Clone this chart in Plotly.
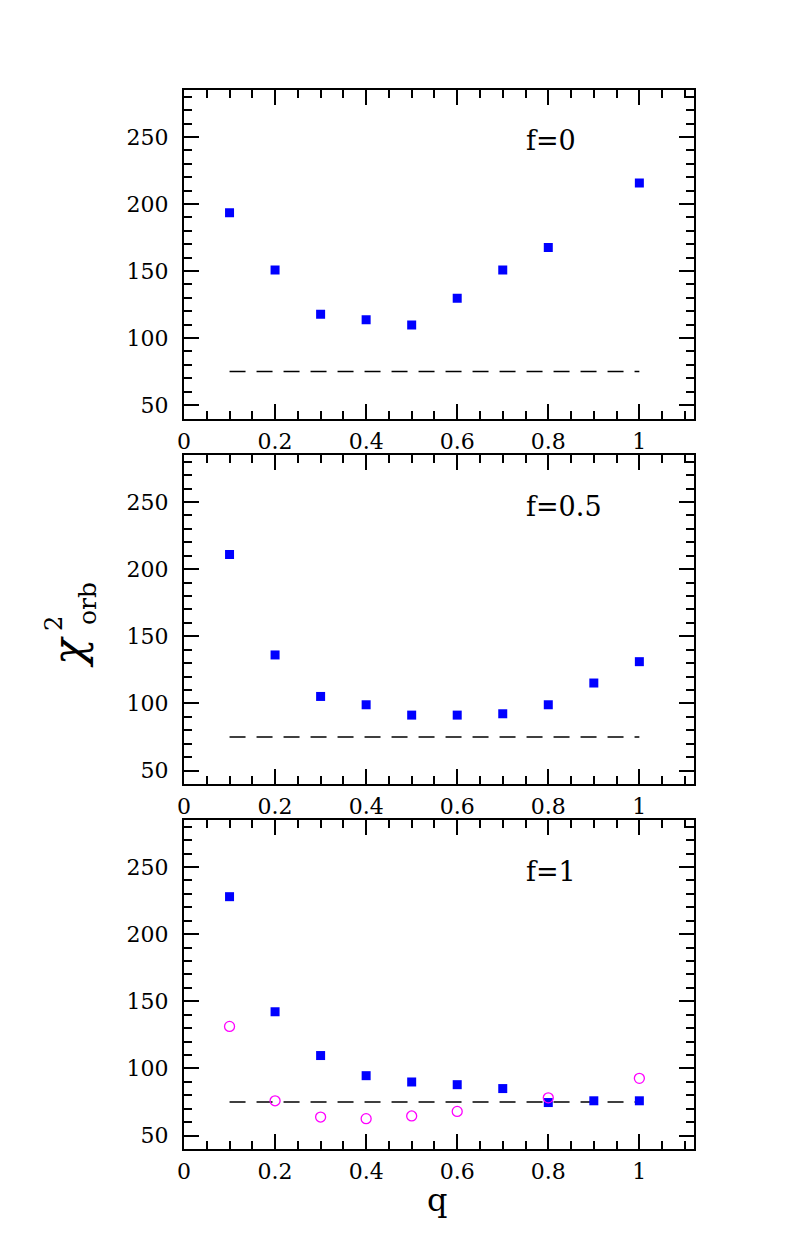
import plotly.graph_objects as go

# ---- data ----
q_f0 = [0.1, 0.2, 0.3, 0.4, 0.5, 0.6, 0.7, 0.8, 1.0]
chi_f0 = [193.5, 150.7, 117.7, 113.7, 109.7, 129.6, 150.7, 167.6, 215.6]

q_f05 = [0.1, 0.2, 0.3, 0.4, 0.5, 0.6, 0.7, 0.8, 0.9, 1.0]
chi_f05 = [210.9, 136.1, 105.2, 99.0, 91.3, 91.3, 92.3, 99.0, 115.2, 131.1]

q_f1 = [0.1, 0.2, 0.3, 0.4, 0.5, 0.6, 0.7, 0.8, 0.9, 1.0]
chi_f1 = [227.9, 142.2, 109.6, 94.6, 89.9, 87.9, 85.0, 74.6, 75.9, 75.9]

q_f1_open = [0.1, 0.2, 0.3, 0.4, 0.5, 0.6, 0.8, 1.0]
chi_f1_open = [131.3, 75.9, 63.8, 62.6, 64.6, 68.0, 78.1, 92.6]

ref_q = [0.1, 1.0]
ref_chi = [75, 75]

panel_labels = ["f=0", "f=0.5", "f=1"]
x_ticks = [0, 0.2, 0.4, 0.6, 0.8, 1.0]
x_ticktext = ["0", "0.2", "0.4", "0.6", "0.8", "1"]
y_ticks = [50, 100, 150, 200, 250]

FONT = "DejaVu Serif"

# ---- layout geometry ----
L, R, T, B = 184, 106, 90, 97
W, H = 800, 1246
plot_h = H - T - B


def dom(top_px, bot_px):
    return [(H - B - bot_px) / plot_h, (H - B - top_px) / plot_h]


domains = [dom(90, 418.5), dom(455, 784), dom(820, 1149)]

fig = go.Figure()

series = [
    (q_f0, chi_f0, None, None),
    (q_f05, chi_f05, None, None),
    (q_f1, chi_f1, q_f1_open, chi_f1_open),
]

for i, (qx, cy, qo, co) in enumerate(series):
    n = "" if i == 0 else str(i + 1)
    xa, ya = "x" + n, "y" + n
    fig.add_trace(go.Scatter(x=ref_q, y=ref_chi, mode="lines", xaxis=xa, yaxis=ya,
                             line=dict(color="black", width=1.5, dash="16px,11px"),
                             showlegend=False, hoverinfo="skip"))
    fig.add_trace(go.Scatter(x=qx, y=cy, mode="markers", xaxis=xa, yaxis=ya,
                             marker=dict(symbol="square", size=9, color="#0000ff",
                                         line=dict(width=0)),
                             showlegend=False))
    if qo is not None:
        fig.add_trace(go.Scatter(x=qo, y=co, mode="markers", xaxis=xa, yaxis=ya,
                                 marker=dict(symbol="circle-open", size=10, color="#ff00ff",
                                             line=dict(width=1.3, color="#ff00ff")),
                                 showlegend=False))

axis_common = dict(showline=True, linecolor="black", linewidth=2, mirror="ticks",
                   ticks="inside", tickcolor="black", tickwidth=2, ticklen=15,
                   showgrid=False, zeroline=False,
                   tickfont=dict(family=FONT, size=22, color="black"))

layout = dict(width=W, height=H, margin=dict(l=L, r=R, t=T, b=B),
              plot_bgcolor="white", paper_bgcolor="white", showlegend=False)

for i in range(3):
    n = "" if i == 0 else str(i + 1)
    layout["xaxis" + n] = dict(axis_common, domain=[0, 1], range=[0, 1.12],
                               anchor="y" + n, tickvals=x_ticks, ticktext=x_ticktext,
                               ticklabelstandoff=2,
                               minor=dict(dtick=0.05, tick0=0, ticks="inside", ticklen=8,
                                          tickwidth=2, tickcolor="black"))
    layout["yaxis" + n] = dict(axis_common, domain=domains[i], range=[40, 285],
                               anchor="x" + n, tickvals=y_ticks,
                               ticklabelstandoff=9,
                               minor=dict(dtick=10, tick0=0, ticks="inside", ticklen=8,
                                          tickwidth=2, tickcolor="black"))

fig.update_layout(**layout)

# panel labels
for i, lab in enumerate(panel_labels):
    n = "" if i == 0 else str(i + 1)
    fig.add_annotation(x=0.746, y=247, xref="x" + n, yref="y" + n, text=lab,
                       showarrow=False, xanchor="left", yanchor="middle",
                       font=dict(family=FONT, size=27, color="black"))


def px(xp):
    return (xp - L) / (W - L - R)


def py(yp):
    return (H - B - yp) / plot_h


# y-axis title: chi^2_orb (rotated)
fig.add_annotation(x=px(68), y=py(652), xref="paper", yref="paper", text="<i>χ</i>",
                   textangle=-90, showarrow=False, xanchor="center", yanchor="middle",
                   font=dict(family=FONT, size=44, color="black"))
fig.add_annotation(x=px(54), y=py(624), xref="paper", yref="paper", text="2",
                   textangle=-90, showarrow=False, xanchor="center", yanchor="middle",
                   font=dict(family=FONT, size=24, color="black"))
fig.add_annotation(x=px(87), y=py(604), xref="paper", yref="paper", text="orb",
                   textangle=-90, showarrow=False, xanchor="center", yanchor="middle",
                   font=dict(family=FONT, size=25, color="black"))

# x-axis title
fig.add_annotation(x=px(437), y=py(1200), xref="paper", yref="paper", text="q",
                   showarrow=False, xanchor="center", yanchor="middle",
                   font=dict(family=FONT, size=32, color="black"))

fig.write_html("out.html")
